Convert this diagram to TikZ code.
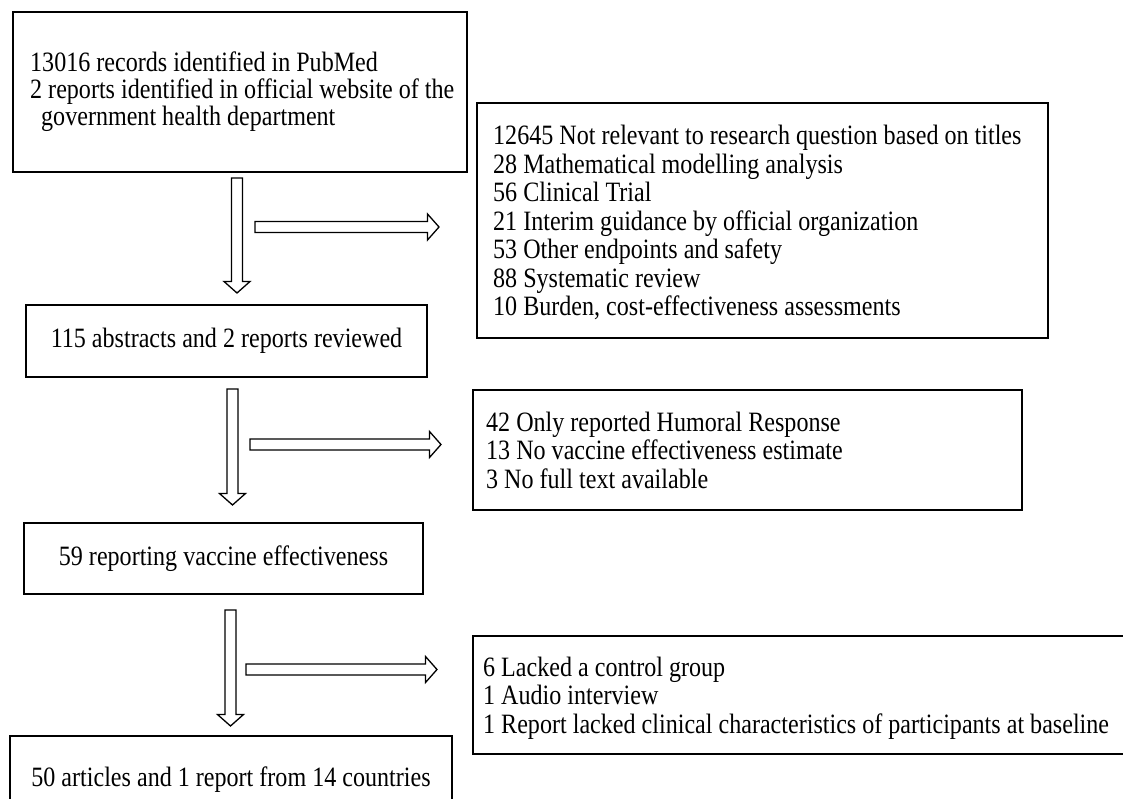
\documentclass[tikz,border=0pt]{standalone}
\usepackage{fontspec}
\setmainfont{Liberation Serif}[FakeStretch=0.86]
\usepackage{tikz}
\usetikzlibrary{calc}

\tikzset{
  frame/.style={draw, line width=1.6pt, inner sep=0pt, outer sep=0pt,
    anchor=north west, font=\fontsize{28}{28.5}\selectfont},
  listtext/.style={anchor=west, align=left, inner sep=0pt,
    font=\fontsize{28}{28.5}\selectfont},
  blockarrow/.style={draw, fill=white, line width=1.3pt,
    to path={
      ($(\tikztostart)!5.5pt!90:(\tikztotarget)$)
      -- ($($(\tikztotarget)!11.5pt!(\tikztostart)$)!5.5pt!90:(\tikztotarget)$)
      -- ($($(\tikztotarget)!11.5pt!(\tikztostart)$)!13pt!90:(\tikztotarget)$)
      -- (\tikztotarget)
      -- ($($(\tikztotarget)!11.5pt!(\tikztostart)$)!13pt!-90:(\tikztotarget)$)
      -- ($($(\tikztotarget)!11.5pt!(\tikztostart)$)!5.5pt!-90:(\tikztotarget)$)
      -- ($(\tikztostart)!5.5pt!-90:(\tikztotarget)$)
      -- cycle}}
}

\begin{document}
\begin{tikzpicture}[x=1pt,y=-1pt]
    \useasboundingbox (0,0) rectangle (1123,799);
    \clip (0,0) rectangle (1123,799);
    % left column
    \node[frame, minimum width=454, minimum height=160,
      label={[listtext, font=\fontsize{28}{27}\selectfont, xshift=17]west:{13016 records identified in PubMed\\2 reports identified in official website of the\\\hspace*{11pt}government health department}}]
      (search) at (13,12) {};
    \node[frame, minimum width=401, minimum height=72] (abstracts) at (26,305) {115 abstracts and 2 reports reviewed};
    \node[frame, minimum width=399, minimum height=71] (effective) at (24,523) {59 reporting vaccine effectiveness};
    \node[frame, minimum width=442, minimum height=88] (included) at (10,736) {50 articles and 1 report from 14 countries};
    % right column
    \node[frame, minimum width=571, minimum height=235,
      label={[listtext, xshift=16, yshift=-2]west:{12645 Not relevant to research question based on titles\\28 Mathematical modelling analysis\\56 Clinical Trial\\21 Interim guidance by official organization\\53 Other endpoints and safety\\88 Systematic review\\10 Burden, cost-effectiveness assessments}}]
      (titles) at (477,103) {};
    \node[frame, minimum width=549, minimum height=120,
      label={[listtext, xshift=13]west:{42 Only reported Humoral Response\\13 No vaccine effectiveness estimate\\3 No full text available}}]
      (humoral) at (473,390) {};
    \node[frame, minimum width=670, minimum height=118,
      label={[listtext, xshift=10, yshift=-3]west:{6 Lacked a control group\\1 Audio interview\\1 Report lacked clinical characteristics of participants at baseline}}]
      (control) at (473,636) {};
    % arrow ends
    \coordinate (down1s) at (237,178);
    \coordinate (down1t) at (237,293);
    \coordinate (out1s) at (255,227);
    \coordinate (out1t) at (439,227);
    \coordinate (down2s) at (232.5,389);
    \coordinate (down2t) at (232.5,505);
    \coordinate (out2s) at (250,444.5);
    \coordinate (out2t) at (441,444.5);
    \coordinate (down3s) at (230.5,610);
    \coordinate (down3t) at (230.5,726);
    \coordinate (out3s) at (246,669.5);
    \coordinate (out3t) at (437,669.5);
    \draw[blockarrow] (down1s) to (down1t);
    \draw[blockarrow] (out1s) to (out1t);
    \draw[blockarrow] (down2s) to (down2t);
    \draw[blockarrow] (out2s) to (out2t);
    \draw[blockarrow] (down3s) to (down3t);
    \draw[blockarrow] (out3s) to (out3t);
\end{tikzpicture}
\end{document}
